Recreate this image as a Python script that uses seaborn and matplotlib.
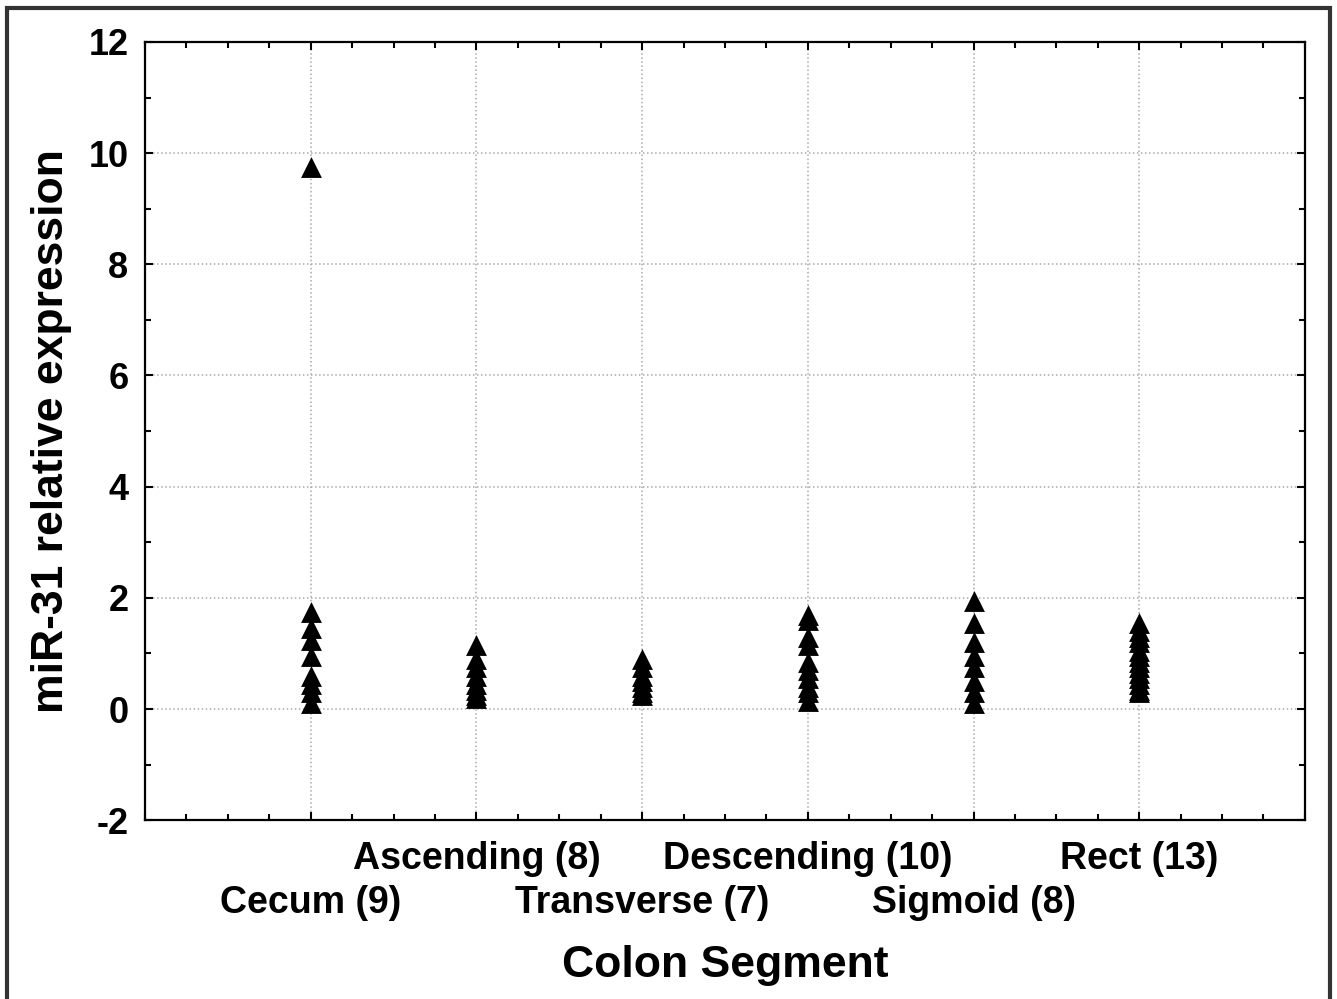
import numpy as np
import pandas as pd
import matplotlib
matplotlib.use("Agg")
import matplotlib.pyplot as plt
from matplotlib.ticker import MultipleLocator, FixedLocator
from matplotlib.patches import Rectangle
import seaborn as sns

# Segment labels (sample counts in parentheses)
segments = ["Cecum (9)", "Ascending (8)", "Transverse (7)",
            "Descending (10)", "Sigmoid (8)", "Rect (13)"]

# miR-31 relative expression per segment
cecum = [9.75, 1.75, 1.45, 1.25, 0.95, 0.6, 0.45, 0.3, 0.1]
ascending = [1.15, 0.9, 0.75, 0.6, 0.45, 0.35, 0.25, 0.2]
transverse = [0.9, 0.75, 0.6, 0.5, 0.4, 0.3, 0.25]
descending = [1.7, 1.6, 1.3, 1.15, 0.85, 0.7, 0.55, 0.4, 0.3, 0.15]
sigmoid = [1.95, 1.55, 1.2, 0.95, 0.75, 0.5, 0.3, 0.1]
rect = [1.55, 1.4, 1.3, 1.2, 1.05, 0.95, 0.85, 0.75, 0.65, 0.55, 0.45, 0.35, 0.3]

values = [cecum, ascending, transverse, descending, sigmoid, rect]
df = pd.DataFrame({
    "segment": np.repeat(segments, [len(v) for v in values]),
    "expr": np.concatenate(values),
})

sns.set_theme(style="white")
plt.rcParams["font.family"] = ["Liberation Sans", "DejaVu Sans"]
plt.rcParams["font.weight"] = "bold"
plt.rcParams["text.color"] = "black"
plt.rcParams["axes.labelcolor"] = "black"
plt.rcParams["xtick.color"] = "black"
plt.rcParams["ytick.color"] = "black"

fig = plt.figure(figsize=(13.37, 9.99), dpi=100)
ax = fig.add_axes([0.1085, 0.179, 0.8675, 0.779])

sns.stripplot(data=df, x="segment", y="expr", order=segments, jitter=False,
              marker="^", size=15, color="black", linewidth=0, ax=ax, zorder=3)

ax.set_xlim(-1, 6)
ax.set_ylim(-2, 12)
ax.yaxis.set_major_locator(MultipleLocator(2))
ax.yaxis.set_minor_locator(MultipleLocator(1))
ax.xaxis.set_major_locator(FixedLocator(range(len(segments))))
ax.xaxis.set_minor_locator(MultipleLocator(0.25))

ax.set_xticklabels(segments, fontsize=27, fontweight="bold")
ax.set_yticklabels([f"{int(v)}" for v in ax.get_yticks()], fontsize=26,
                   fontweight="bold")

ax.grid(True, which="major", linestyle=":", color="#aaaaaa", linewidth=1.1)
ax.set_axisbelow(True)

ax.tick_params(which="both", direction="in", top=True, right=True,
               bottom=True, left=True, color="black")
ax.tick_params(which="major", length=6, width=1.5)
ax.tick_params(which="minor", length=4, width=1.5)
ax.tick_params(axis="y", which="major", pad=12)

# Staggered category labels: first, third, fifth on the lower row
for i, tick in enumerate(ax.xaxis.get_major_ticks()):
    tick.set_pad(47 if i % 2 == 0 else 15)

for sp in ax.spines.values():
    sp.set_color("black")
    sp.set_linewidth(1.6)

ax.set_xlabel("Colon Segment", fontsize=32, fontweight="bold")
ax.xaxis.set_label_coords(0.5, -0.161)
ax.set_ylabel("miR-31 relative expression", fontsize=32, fontweight="bold")
ax.yaxis.set_label_coords(-0.063, 0.5)

# Outer frame around the whole figure
fig.patches.append(Rectangle((0.005, -0.01), 0.99, 1.002, transform=fig.transFigure,
                             fill=False, edgecolor="#333333", linewidth=3))

fig.savefig("out.png", dpi=100, facecolor="white")
